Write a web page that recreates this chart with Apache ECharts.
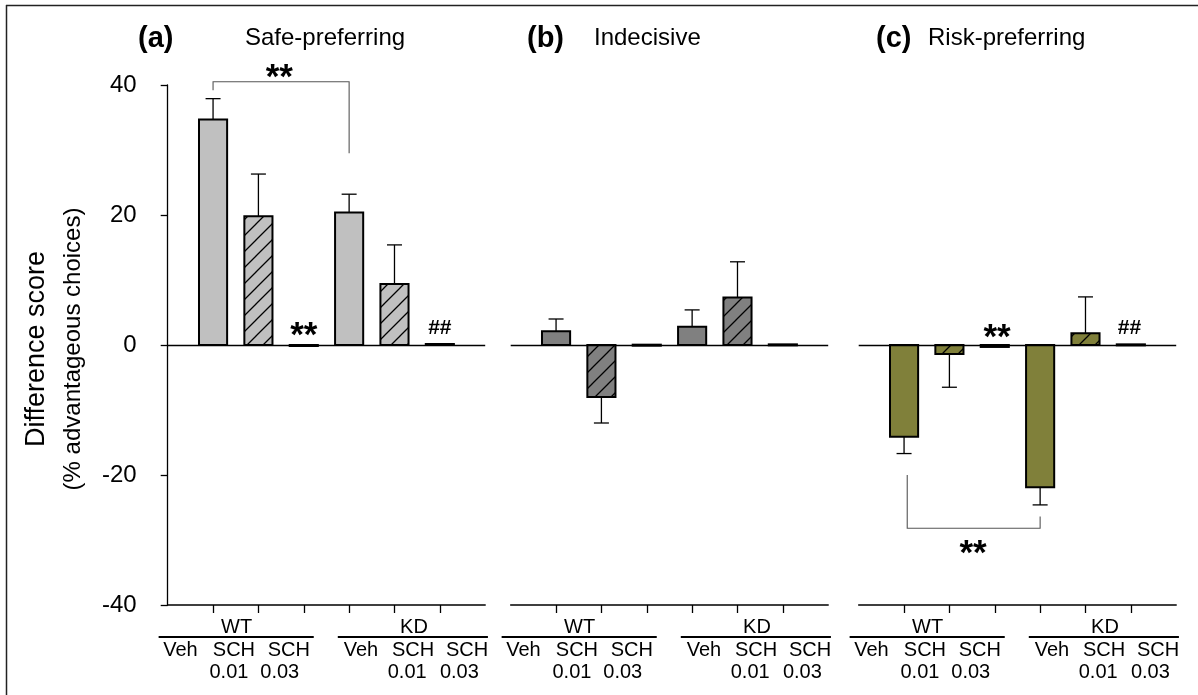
<!DOCTYPE html>
<html><head><meta charset="utf-8">
<script src="https://cdn.jsdelivr.net/npm/echarts@6/dist/echarts.min.js"></script>
<style>html,body{margin:0;padding:0;background:#fff}#c{width:1198px;height:695px}</style>
</head><body><div id="c"></div>
<script>
// ---------- DATA ----------
const groups = ['WT Veh', 'WT SCH 0.01', 'WT SCH 0.03', 'KD Veh', 'KD SCH 0.01', 'KD SCH 0.03'];
const hatched = [0, 1, 1, 0, 1, 1];
const safeMean = [34.7, 19.8, -0.1, 20.4, 9.4, 0.15];
const safeSem = [3.2, 6.5, 0, 2.8, 6.0, 0];
const indecisiveMean = [2.1, -8.0, 0.05, 2.8, 7.3, 0.1];
const indecisiveSem = [1.9, 4.0, 0, 2.6, 5.5, 0];
const riskMean = [-14.1, -1.4, -0.3, -21.9, 1.8, 0.1];
const riskSem = [2.6, 5.1, 0, 2.7, 5.6, 0];
const panelLetters = ['(a)', '(b)', '(c)'];
const panelNames = ['Safe-preferring', 'Indecisive', 'Risk-preferring'];
const yTickValues = [-40, -20, 0, 20, 40];
const genotypes = ['WT', 'KD'];
const treatRow1 = ['Veh', 'SCH', 'SCH', 'Veh', 'SCH', 'SCH'];
const treatRow2 = ['', '0.01', '0.03', '', '0.01', '0.03'];
const yTitle = 'Difference score';
const ySubTitle = '(% advantageous choices)';
// significance: brackets [x1, x2, yBar, yLeftEnd, yRightEnd], marks [x, y, text]
const safeBrackets = [[1, 4, 40.5, 39.2, 29.5]];
const safeMarks = [[2.46, 42.2, '**'], [3, 2.6, '**'], [6, 2.6, '##']];
const indecisiveBrackets = [];
const indecisiveMarks = [];
const riskBrackets = [[1.07, 4.0, -28.2, -20.0, -26.4]];
const riskMarks = [[3.05, 2.2, '**'], [5.97, 2.6, '##'], [2.52, -31.0, '**']];

// ---------- LAYOUT ----------
const FONT = '"Liberation Sans", Arial, Helvetica, sans-serif';
const gridLefts = [167.7, 510.7, 858.7];
const gridWidth = 317.5, gridTop = 85, gridHeight = 520;
const colors = ['#c0c0c0', '#808080', '#80803a'];
const genoX = [1.52, 5.43];
const genoLine = [[-0.2, 3.22], [3.75, 7.06]];
const row1X = [0.28, 1.46, 2.67, 4.26, 5.41, 6.6];
const row2X = [0, 1.35, 2.47, 0, 5.28, 6.43];

function hatchPattern(color) {
  const s = 16;
  const c = document.createElement('canvas');
  c.width = s; c.height = s;
  const g = c.getContext('2d');
  g.fillStyle = color; g.fillRect(0, 0, s, s);
  g.strokeStyle = '#000'; g.lineWidth = 1.3;
  g.beginPath();
  g.moveTo(-2, s + 2); g.lineTo(s + 2, -2);
  g.moveTo(-2, 2); g.lineTo(2, -2);
  g.moveTo(s - 2, s + 2); g.lineTo(s + 2, s - 2);
  g.stroke();
  return c;
}

const panels = [
  { mean: safeMean, sem: safeSem, brackets: safeBrackets, marks: safeMarks },
  { mean: indecisiveMean, sem: indecisiveSem, brackets: indecisiveBrackets, marks: indecisiveMarks },
  { mean: riskMean, sem: riskSem, brackets: riskBrackets, marks: riskMarks }
];

const grid = [], xAxis = [], yAxis = [], series = [], graphic = [];

panels.forEach((p, i) => {
  grid.push({ left: gridLefts[i], top: gridTop, width: gridWidth, height: gridHeight });
  xAxis.push({
    gridIndex: i, type: 'value', min: 0, max: 7, position: 'bottom',
    axisLine: { show: true, onZero: false, lineStyle: { color: '#000', width: 1.5 } },
    axisTick: { show: true, customValues: [1, 2, 3, 4, 5, 6], length: 8, lineStyle: { color: '#000', width: 1.3 } },
    axisLabel: { show: false }, splitLine: { show: false }
  });
  yAxis.push({
    gridIndex: i, type: 'value', min: -40, max: 40, interval: 20, show: i === 0, offset: 11,
    axisLine: { show: true, lineStyle: { color: '#000', width: 1.3 } },
    axisTick: { show: true, length: 7, lineStyle: { color: '#000', width: 1.3 } },
    axisLabel: { show: true, color: '#000', fontSize: 24, fontFamily: FONT, margin: 20 },
    splitLine: { show: false }
  });
  const fillPlain = colors[i];
  const fillHatch = { image: hatchPattern(colors[i]), repeat: 'repeat' };
  // bars with one-sided error bars
  series.push({
    type: 'custom', xAxisIndex: i, yAxisIndex: i, silent: true,
    data: groups.map((g, k) => [k + 1, p.mean[k], p.sem[k], hatched[k]]),
    renderItem: (params, api) => {
      const x = api.value(0), m = api.value(1), s = api.value(2), h = api.value(3);
      const p0 = api.coord([x, 0]), p1 = api.coord([x, m]);
      const w = api.size([0.62, 0])[0];
      const top = Math.min(p0[1], p1[1]);
      const hh = Math.max(Math.abs(p1[1] - p0[1]), 1);
      const children = [{
        type: 'rect', shape: { x: p0[0] - w / 2, y: top, width: w, height: hh },
        style: { fill: h ? fillHatch : fillPlain, stroke: '#000', lineWidth: 2 }
      }];
      if (s > 0) {
        const e = api.coord([x, m + (m >= 0 ? s : -s)]);
        children.push({ type: 'line', shape: { x1: p1[0], y1: p1[1], x2: e[0], y2: e[1] }, style: { stroke: '#000', lineWidth: 1.3 } });
        children.push({ type: 'line', shape: { x1: e[0] - 7.5, y1: e[1], x2: e[0] + 7.5, y2: e[1] }, style: { stroke: '#000', lineWidth: 1.3 } });
      }
      return { type: 'group', children };
    },
    markLine: {
      silent: true, symbol: 'none', animation: false,
      label: { show: false },
      lineStyle: { color: '#000', width: 1.3, type: 'solid' },
      data: [{ yAxis: 0 }]
    },
    z: 3
  });
  // significance annotations
  series.push({
    type: 'custom', xAxisIndex: i, yAxisIndex: i, silent: true,
    data: [[0, 0]],
    renderItem: (params, api) => {
      const children = [];
      p.brackets.forEach(b => {
        const a1 = api.coord([b[0], b[3]]), a2 = api.coord([b[0], b[2]]);
        const a3 = api.coord([b[1], b[2]]), a4 = api.coord([b[1], b[4]]);
        children.push({ type: 'polyline', shape: { points: [a1, a2, a3, a4] }, style: { stroke: '#555', lineWidth: 1.1, fill: null } });
      });
      p.marks.forEach(mk => {
        const c = api.coord([mk[0], mk[1]]);
        const star = mk[2] === '**';
        children.push({
          type: 'text', x: c[0], y: c[1] + (star ? 8 : 0),
          style: { text: mk[2], fill: '#000', font: 'bold ' + (star ? 35 : 21) + 'px ' + FONT, textAlign: 'center', textVerticalAlign: 'middle' }
        });
      });
      return { type: 'group', children };
    },
    z: 4
  });
  // category labels below the axis
  series.push({
    type: 'custom', xAxisIndex: i, yAxisIndex: i, silent: true,
    data: [[0, -40]],
    renderItem: (params, api) => {
      const base = api.coord([0, -40])[1];
      const children = [];
      const font = '20px ' + FONT;
      genotypes.forEach((gname, j) => {
        const c = api.coord([genoX[j], -40]);
        children.push({ type: 'text', x: c[0], y: base + 22, style: { text: gname, fill: '#000', font, textAlign: 'center', textVerticalAlign: 'middle' } });
        const l1 = api.coord([genoLine[j][0], -40]), l2 = api.coord([genoLine[j][1], -40]);
        children.push({ type: 'line', shape: { x1: l1[0], y1: base + 32, x2: l2[0], y2: base + 32 }, style: { stroke: '#000', lineWidth: 1.8 } });
      });
      treatRow1.forEach((t, k) => {
        const c = api.coord([row1X[k], -40]);
        children.push({ type: 'text', x: c[0], y: base + 45, style: { text: t, fill: '#000', font, textAlign: 'center', textVerticalAlign: 'middle' } });
        if (treatRow2[k]) {
          const c2 = api.coord([row2X[k], -40]);
          children.push({ type: 'text', x: c2[0], y: base + 67, style: { text: treatRow2[k], fill: '#000', font, textAlign: 'center', textVerticalAlign: 'middle' } });
        }
      });
      return { type: 'group', children };
    },
    z: 4
  });
});

// panel titles
const letterX = [138, 527, 876], nameX = [245, 594, 928];
panelLetters.forEach((t, i) => {
  graphic.push({ type: 'text', left: letterX[i], top: 24, style: { text: t, fill: '#000', font: 'bold 29px ' + FONT } });
  graphic.push({ type: 'text', left: nameX[i], top: 26, style: { text: panelNames[i], fill: '#000', font: '24px ' + FONT } });
});
// y-axis titles
graphic.push({ type: 'text', x: 37, y: 349, rotation: Math.PI / 2, style: { text: yTitle, fill: '#000', font: '27px ' + FONT, textAlign: 'center', textVerticalAlign: 'middle' } });
graphic.push({ type: 'text', x: 73, y: 349, rotation: Math.PI / 2, style: { text: ySubTitle, fill: '#000', font: '24px ' + FONT, textAlign: 'center', textVerticalAlign: 'middle' } });
// frame lines (top and left)
graphic.push({ type: 'line', shape: { x1: 6, y1: 5.5, x2: 1198, y2: 5.5 }, style: { stroke: '#222', lineWidth: 1.5 } });
graphic.push({ type: 'line', shape: { x1: 6.5, y1: 5, x2: 6.5, y2: 695 }, style: { stroke: '#222', lineWidth: 1.5 } });

const chart = echarts.init(document.getElementById('c'), null, { renderer: 'canvas' });
chart.setOption({ animation: false, backgroundColor: '#fff', grid, xAxis, yAxis, series, graphic });
</script></body></html>
